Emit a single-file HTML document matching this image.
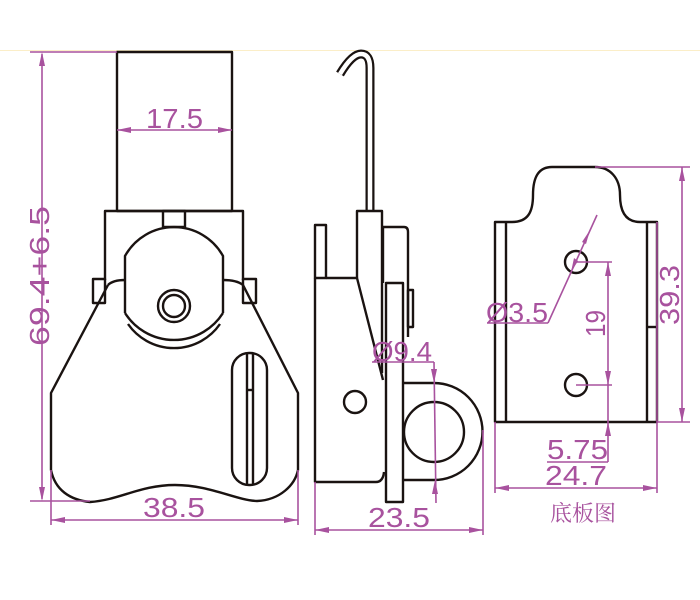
<!DOCTYPE html>
<html><head><meta charset="utf-8"><style>
html,body{margin:0;padding:0;background:#fff;width:700px;height:600px;overflow:hidden}
svg{display:block}
.k{fill:none;stroke:#1a1311;stroke-width:2.4;stroke-linejoin:round}
.p{fill:none;stroke:#a8529e;stroke-width:1.6}
.a{fill:#a8529e}
.t{fill:#a8529e;font-family:"Liberation Sans",sans-serif;font-size:28px}
</style></head><body>
<svg width="700" height="600" viewBox="0 0 700 600">
<line x1="0" y1="50.5" x2="700" y2="50.5" stroke="#fbeec8" stroke-width="1"/>
<!-- LEFT VIEW -->
<rect class="k" x="117" y="52" width="115" height="159"/>
<path class="k" d="M105,280 V211 H243 V280"/>
<rect class="k" x="163" y="211" width="22" height="16"/>
<rect class="k" x="93" y="279" width="12" height="24"/>
<rect class="k" x="243" y="279" width="13" height="24"/>
<path class="k" d="M108,285 L51,393 V470 C55,490 70,500 90,502 C120,500 140,485 175,485 C210,485 235,500 257,501 C280,500 295,485 298,470 V393 L243,285 C238,281 230,280 223,280"/>
<path class="k" d="M108,285 C112,281 118,280 125,280"/>
<path class="k" d="M125,313 V256 A56,56 0 0 1 223,256 V313"/>
<path class="k" d="M125,313 A58,58 0 0 0 223,313"/>
<path class="k" d="M128,324 A56,56 0 0 0 220,324"/>
<circle class="k" cx="174" cy="306" r="16"/>
<circle class="k" cx="174" cy="306" r="11"/>
<rect class="k" x="232" y="353" width="35" height="132" rx="17"/>
<line class="k" x1="247" y1="353" x2="247" y2="485"/>
<line class="k" x1="253" y1="353" x2="253" y2="485"/>
<line class="k" x1="247" y1="390" x2="253" y2="390"/>
<!-- dims left -->
<line class="p" x1="30" y1="52" x2="117" y2="52"/>
<line class="p" x1="30" y1="501" x2="90" y2="501"/>
<line class="p" x1="42" y1="54" x2="42" y2="499"/>
<path class="a" d="M42,52 l-3,14 h6z M42,501 l-3,-14 h6z"/>
<text class="t" transform="translate(49,276) rotate(-90)" text-anchor="middle" textLength="140" lengthAdjust="spacingAndGlyphs">69.4+6.5</text>
<line class="p" x1="117" y1="130" x2="232" y2="130"/>
<path class="a" d="M117,130 l14,-3 v6z M232,130 l-14,-3 v6z"/>
<text class="t" x="146" y="128" textLength="57" lengthAdjust="spacingAndGlyphs">17.5</text>
<line class="p" x1="51" y1="470" x2="51" y2="525"/>
<line class="p" x1="298" y1="470" x2="298" y2="525"/>
<line class="p" x1="51" y1="520" x2="298" y2="520"/>
<path class="a" d="M51,520 l14,-3 v6z M298,520 l-14,-3 v6z"/>
<text class="t" x="143" y="517" textLength="62" lengthAdjust="spacingAndGlyphs">38.5</text>
<!-- MIDDLE VIEW -->
<path d="M370,211 V68 Q370,54 361,54 Q352,54 340,74" fill="none" stroke="#1a1311" stroke-width="9"/>
<path d="M370,211 V68 Q370,54 361,54 Q352,54 340,74" fill="none" stroke="#fff" stroke-width="4.5"/>
<rect class="k" x="315" y="225" width="11" height="53"/>
<path class="k" d="M357,278 V211 H382 V373"/>
<path class="k" d="M326,278 H357 L383,380"/>
<path class="k" d="M315,278 V482 H376 Q383,482 384,472"/>
<path class="k" d="M383,283 V227 H404 Q408,227 408,232 V337"/>
<rect class="k" x="408" y="290" width="5" height="37"/>
<rect class="k" x="386" y="283" width="17" height="219" fill="#fff"/>
<path class="k" d="M403,383 H434 A48.5,48.5 0 0 1 434,480 H403"/>
<circle class="k" cx="434" cy="432" r="30"/>
<circle class="k" cx="355" cy="402" r="11"/>
<text class="t" x="372" y="361" textLength="60" lengthAdjust="spacingAndGlyphs">Ø9.4</text>
<line class="p" x1="372" y1="362" x2="434" y2="362"/>
<line class="p" x1="434" y1="362" x2="436" y2="503"/>
<path class="a" d="M434,383 l-3,-14 h6z M435,480 l-3,14 h6z"/>
<line class="p" x1="315" y1="482" x2="315" y2="535"/>
<line class="p" x1="483" y1="430" x2="483" y2="535"/>
<line class="p" x1="315" y1="530" x2="483" y2="530"/>
<path class="a" d="M315,530 l14,-3 v6z M483,530 l-14,-3 v6z"/>
<text class="t" x="368" y="527" textLength="62" lengthAdjust="spacingAndGlyphs">23.5</text>
<!-- RIGHT VIEW -->
<path class="k" d="M495,222 H512 C528,222 533,212 533,195 C533,178 538,167 552,167 H595 C610,167 620,178 620,195 C620,212 626,222 640,222 H657 V422 H495 Z"/>
<line class="k" x1="506" y1="222" x2="506" y2="422"/>
<line class="k" x1="647" y1="222" x2="647" y2="422"/>
<line class="k" x1="647" y1="327" x2="657" y2="327"/>
<circle class="k" cx="576" cy="262" r="11"/>
<circle class="k" cx="576" cy="385" r="11"/>
<line class="p" x1="597" y1="215" x2="548" y2="323"/>
<path class="a" d="M571,272 l3,-14 l4,3z"/>
<path class="a" d="M590,230 l-8,12 l4,2z"/>
<line class="p" x1="548" y1="323" x2="487" y2="323"/>
<text class="t" x="486" y="322" textLength="62" lengthAdjust="spacingAndGlyphs">Ø3.5</text>
<line class="p" x1="576" y1="262" x2="612" y2="262"/>
<line class="p" x1="576" y1="385" x2="612" y2="385"/>
<line class="p" x1="608" y1="262" x2="608" y2="462"/>
<path class="a" d="M608,262 l-3,14 h6z M608,385 l-3,-14 h6z M608,422 l-3,14 h6z"/>
<text class="t" transform="translate(605,337) rotate(-90)" textLength="27" lengthAdjust="spacingAndGlyphs">19</text>
<line class="p" x1="547" y1="462" x2="608" y2="462"/>
<text class="t" x="547" y="459" textLength="61" lengthAdjust="spacingAndGlyphs">5.75</text>
<line class="p" x1="657" y1="222" x2="657" y2="422"/>
<line class="p" x1="495" y1="422" x2="495" y2="493"/>
<line class="p" x1="657" y1="422" x2="657" y2="493"/>
<line class="p" x1="495" y1="488" x2="657" y2="488"/>
<path class="a" d="M495,488 l14,-3 v6z M657,488 l-14,-3 v6z"/>
<text class="t" x="545" y="485" textLength="62" lengthAdjust="spacingAndGlyphs">24.7</text>
<line class="p" x1="595" y1="167" x2="690" y2="167"/>
<line class="p" x1="657" y1="422" x2="690" y2="422"/>
<line class="p" x1="682" y1="167" x2="682" y2="422"/>
<path class="a" d="M682,167 l-3,14 h6z M682,422 l-3,-14 h6z"/>
<text class="t" transform="translate(679,325) rotate(-90)" textLength="60" lengthAdjust="spacingAndGlyphs">39.3</text>
<text x="583" y="521" text-anchor="middle" fill="#a8529e" font-size="22" font-family="'Liberation Serif','Noto Serif CJK SC',serif">底板图</text>
</svg>
</body></html>
